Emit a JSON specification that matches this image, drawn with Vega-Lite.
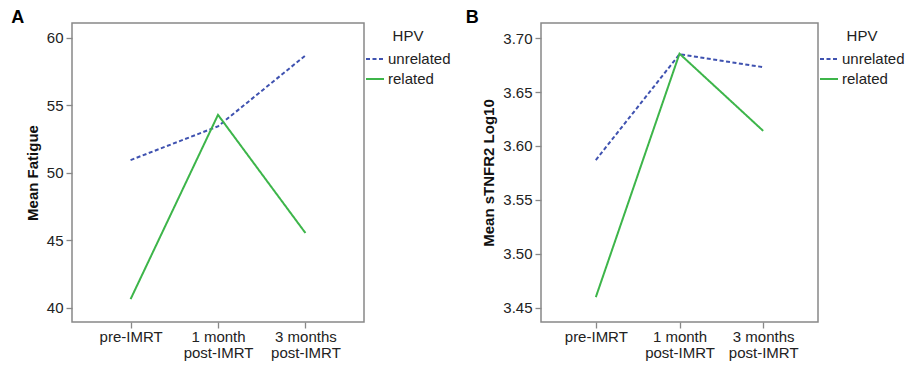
{
  "$schema": "https://vega.github.io/schema/vega-lite/v6.json",
  "padding": {"left": 10, "top": 8, "right": 5, "bottom": 0},
  "spacing": 13,
  "config": {
    "font": "Liberation Sans",
    "view": {"stroke": "#888888", "strokeWidth": 1.5},
    "axis": {
      "domain": false,
      "grid": false,
      "tickColor": "#888888",
      "tickWidth": 1.3,
      "tickSize": 6,
      "labelFontSize": 15,
      "labelColor": "#222222",
      "titleFontSize": 15,
      "titleFontWeight": "bold",
      "titleColor": "#111111"
    },
    "legend": {
      "titleFontSize": 15,
      "titleFontWeight": "normal",
      "titleColor": "#222222",
      "labelFontSize": 15,
      "labelColor": "#222222"
    },
    "title": {"fontSize": 18, "fontWeight": "bold", "anchor": "start", "color": "#000000"}
  },
  "datasets": {
    "fatigue": [
      {"time": "pre-IMRT", "HPV": "unrelated", "value": 50.95},
      {"time": "1 month post-IMRT", "HPV": "unrelated", "value": 53.45},
      {"time": "3 months post-IMRT", "HPV": "unrelated", "value": 58.7},
      {"time": "pre-IMRT", "HPV": "related", "value": 40.65},
      {"time": "1 month post-IMRT", "HPV": "related", "value": 54.3},
      {"time": "3 months post-IMRT", "HPV": "related", "value": 45.55}
    ],
    "stnfr2": [
      {"time": "pre-IMRT", "HPV": "unrelated", "value": 3.587},
      {"time": "1 month post-IMRT", "HPV": "unrelated", "value": 3.685},
      {"time": "3 months post-IMRT", "HPV": "unrelated", "value": 3.673},
      {"time": "pre-IMRT", "HPV": "related", "value": 3.460},
      {"time": "1 month post-IMRT", "HPV": "related", "value": 3.6855},
      {"time": "3 months post-IMRT", "HPV": "related", "value": 3.614}
    ]
  },
  "hconcat": [
    {
      "data": {"name": "fatigue"},
      "width": 292,
      "height": 299,
      "title": {"text": "A", "dx": -14, "dy": 8},
      "mark": {"type": "line", "strokeWidth": 2},
      "encoding": {
        "x": {
          "field": "time", "type": "ordinal", "sort": ["pre-IMRT", "1 month post-IMRT", "3 months post-IMRT"],
          "scale": {"type": "point", "padding": 0.67},
          "axis": {"title": null, "labelAngle": 0, "labelPadding": 1, "labelLineHeight": 16,
                   "labelExpr": "split(replace(datum.value, ' post', '|post'), '|')"}
        },
        "y": {
          "field": "value", "type": "quantitative",
          "scale": {"domain": [38.96, 61.1], "nice": false, "zero": false},
          "axis": {"title": "Mean Fatigue", "values": [40, 45, 50, 55, 60], "format": "d", "labelPadding": 3, "titlePadding": 6}
        },
        "color": {
          "field": "HPV", "type": "nominal", "sort": ["unrelated", "related"],
          "scale": {"domain": ["unrelated", "related"], "range": ["#3f52b0", "#3db54a"]},
          "legend": {"orient": "none", "legendX": 293, "legendY": 6, "titleAnchor": "middle", "symbolSize": 324, "symbolStrokeWidth": 2, "labelOffset": 3, "titlePadding": 5, "rowPadding": 2}
        },
        "strokeDash": {
          "field": "HPV", "type": "nominal", "sort": ["unrelated", "related"],
          "scale": {"domain": ["unrelated", "related"], "range": [[4, 2.5], [1, 0]]},
          "legend": {"orient": "none", "legendX": 293, "legendY": 6, "titleAnchor": "middle", "symbolSize": 324, "symbolStrokeWidth": 2, "labelOffset": 3, "titlePadding": 5, "rowPadding": 2}
        }
      }
    },
    {
      "data": {"name": "stnfr2"},
      "width": 277,
      "height": 299,
      "title": {"text": "B", "dx": -16, "dy": 8},
      "mark": {"type": "line", "strokeWidth": 2},
      "encoding": {
        "x": {
          "field": "time", "type": "ordinal", "sort": ["pre-IMRT", "1 month post-IMRT", "3 months post-IMRT"],
          "scale": {"type": "point", "padding": 0.655},
          "axis": {"title": null, "labelAngle": 0, "labelPadding": 1, "labelLineHeight": 16,
                   "labelExpr": "split(replace(datum.value, ' post', '|post'), '|')"}
        },
        "y": {
          "field": "value", "type": "quantitative",
          "scale": {"domain": [3.437, 3.7139], "nice": false, "zero": false},
          "axis": {"title": "Mean sTNFR2 Log10", "values": [3.45, 3.5, 3.55, 3.6, 3.65, 3.7], "format": ".2f", "labelPadding": 3, "titlePadding": 6}
        },
        "color": {
          "field": "HPV", "type": "nominal", "sort": ["unrelated", "related"],
          "scale": {"domain": ["unrelated", "related"], "range": ["#3f52b0", "#3db54a"]},
          "legend": {"orient": "none", "legendX": 278, "legendY": 6, "titleAnchor": "middle", "symbolSize": 324, "symbolStrokeWidth": 2, "labelOffset": 3, "titlePadding": 5, "rowPadding": 2}
        },
        "strokeDash": {
          "field": "HPV", "type": "nominal", "sort": ["unrelated", "related"],
          "scale": {"domain": ["unrelated", "related"], "range": [[4, 2.5], [1, 0]]},
          "legend": {"orient": "none", "legendX": 278, "legendY": 6, "titleAnchor": "middle", "symbolSize": 324, "symbolStrokeWidth": 2, "labelOffset": 3, "titlePadding": 5, "rowPadding": 2}
        }
      }
    }
  ],
  "resolve": {
    "scale": {"y": "independent", "x": "independent", "color": "independent", "strokeDash": "independent"},
    "legend": {"color": "independent", "strokeDash": "independent"}
  }
}
